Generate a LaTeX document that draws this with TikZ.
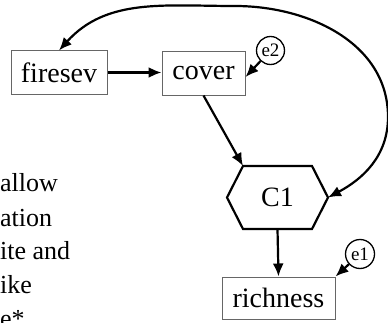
\documentclass[tikz,border=0pt]{standalone}
\usepackage{fontspec}
\setmainfont{Liberation Serif}
\usetikzlibrary{arrows.meta,calc}
\begin{document}
\begin{tikzpicture}[x=1pt,y=1pt,
  box/.style={draw=black!60, line width=1pt, minimum height=43pt, inner sep=0pt, font=\fontsize{28}{30}\selectfont},
  err/.style={draw, circle, line width=1.3pt, inner sep=0pt, font=\fontsize{19}{20}\selectfont},
  tip/.tip={Latex[length=13pt,width=11pt]},
  arr/.style={-tip, line width=2.2pt},
  dbl/.style={tip-tip, line width=2.2pt},
  hexa/.style={line width=2.2pt, line join=miter},
  lbl/.style={font=\fontsize{26}{28}\selectfont, inner sep=0pt, anchor=base west}]
\clip (0,0) rectangle (388,322);
\useasboundingbox (0,0) rectangle (388,322);
% nodes
\node[box, minimum width=96pt] (fs) at (59,249.5) {firesev};
\node[box, minimum width=83pt] (cv) at (203.5,248.5) {cover};
\node[err, minimum size=28pt] (e2) at (270.5,271.5) {e2};
\node[font=\fontsize{28}{30}\selectfont, inner sep=0pt] (c1) at (277.5,124.5) {C1};
\coordinate (c1tl) at (243,156);
\coordinate (c1tr) at (312,156);
\coordinate (c1r) at (328,124.5);
\coordinate (c1br) at (312,93);
\coordinate (c1bl) at (243,93);
\coordinate (c1l) at (227,124.5);
\coordinate (c1b) at (277.5,93);
\draw[hexa] (c1tl) -- (c1tr) -- (c1r) -- (c1br) -- (c1bl) -- (c1l) -- cycle;
\node[box, minimum width=113pt, minimum height=42pt] (rc) at (278.5,24) {richness};
\node[err, minimum size=29pt] (e1) at (360,68) {e1};
% text at left (cropped)
\node[lbl] (t1) at (0,131) {allow};
\node[lbl] (t2) at (0,96) {ation};
\node[lbl] (t3) at (0,63) {ite and};
\node[lbl] (t4) at (0,29) {ike};
\node[lbl] (t5) at (0,-5) {e*};
% connectors
\draw[arr] (fs.east) -- (fs.east -| cv.west);
\draw[arr] (e2) -- ($(cv.north east)!0.58!(cv.south east)$);
\draw[arr] (cv.south) -- (c1tl);
\draw[arr] (c1b) -- (rc.north);
\draw[arr] (e1) -- (rc.north east);
\coordinate (ctop) at (235,316);
\coordinate (cright) at (388,205);
\draw[dbl] (fs.north) to[out=48,in=180] (ctop) to[out=0,in=90] (cright) to[out=-90,in=28] (c1r);
\end{tikzpicture}
\end{document}
